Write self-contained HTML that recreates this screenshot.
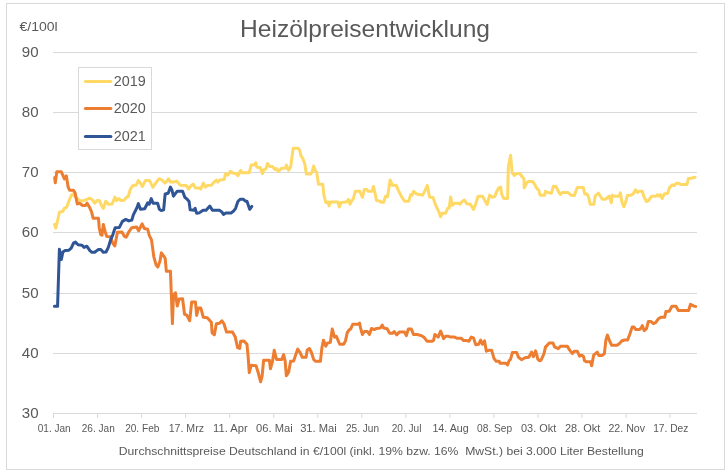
<!DOCTYPE html>
<html><head><meta charset="utf-8"><title>Heizölpreisentwicklung</title>
<style>html,body{margin:0;padding:0;background:#fff;}body{width:728px;height:475px;overflow:hidden;font-family:"Liberation Sans",sans-serif;}svg{display:block;}</style></head>
<body>
<svg width="728" height="475" viewBox="0 0 728 475" font-family="Liberation Sans, sans-serif">
<rect x="0" y="0" width="728" height="475" fill="#ffffff"/>
<defs><mask id="m" maskUnits="userSpaceOnUse" x="0" y="0" width="728" height="475"><rect x="0" y="0" width="728" height="475" fill="#ffffff"/></mask></defs>
<g mask="url(#m)">
<rect x="6.5" y="3.5" width="718" height="466" fill="#ffffff" stroke="#d9d9d9" stroke-width="1"/>
<line x1="53.0" y1="52.50" x2="696.5" y2="52.50" stroke="#d9d9d9" stroke-width="1" shape-rendering="crispEdges"/>
<line x1="53.0" y1="112.50" x2="696.5" y2="112.50" stroke="#d9d9d9" stroke-width="1" shape-rendering="crispEdges"/>
<line x1="53.0" y1="172.50" x2="696.5" y2="172.50" stroke="#d9d9d9" stroke-width="1" shape-rendering="crispEdges"/>
<line x1="53.0" y1="232.50" x2="696.5" y2="232.50" stroke="#d9d9d9" stroke-width="1" shape-rendering="crispEdges"/>
<line x1="53.0" y1="293.50" x2="696.5" y2="293.50" stroke="#d9d9d9" stroke-width="1" shape-rendering="crispEdges"/>
<line x1="53.0" y1="353.50" x2="696.5" y2="353.50" stroke="#d9d9d9" stroke-width="1" shape-rendering="crispEdges"/>
<line x1="53.0" y1="413.50" x2="696.5" y2="413.50" stroke="#d9d9d9" stroke-width="1" shape-rendering="crispEdges"/>
<line x1="53.50" y1="413.00" x2="53.50" y2="418.00" stroke="#d9d9d9" stroke-width="1"/>
<text x="37.70" y="432.4" font-size="11.2" fill="#595959" textLength="33" lengthAdjust="spacingAndGlyphs">01. Jan</text>
<line x1="97.54" y1="413.00" x2="97.54" y2="418.00" stroke="#d9d9d9" stroke-width="1"/>
<text x="81.74" y="432.4" font-size="11.2" fill="#595959" textLength="33" lengthAdjust="spacingAndGlyphs">26. Jan</text>
<line x1="141.58" y1="413.00" x2="141.58" y2="418.00" stroke="#d9d9d9" stroke-width="1"/>
<text x="125.13" y="432.4" font-size="11.2" fill="#595959" textLength="34.3" lengthAdjust="spacingAndGlyphs">20. Feb</text>
<line x1="185.62" y1="413.00" x2="185.62" y2="418.00" stroke="#d9d9d9" stroke-width="1"/>
<text x="168.67" y="432.4" font-size="11.2" fill="#595959" textLength="35.3" lengthAdjust="spacingAndGlyphs">17. Mrz</text>
<line x1="229.66" y1="413.00" x2="229.66" y2="418.00" stroke="#d9d9d9" stroke-width="1"/>
<text x="213.06" y="432.4" font-size="11.2" fill="#595959" textLength="34.6" lengthAdjust="spacingAndGlyphs">11. Apr</text>
<line x1="273.71" y1="413.00" x2="273.71" y2="418.00" stroke="#d9d9d9" stroke-width="1"/>
<text x="256.11" y="432.4" font-size="11.2" fill="#595959" textLength="36.6" lengthAdjust="spacingAndGlyphs">06. Mai</text>
<line x1="317.75" y1="413.00" x2="317.75" y2="418.00" stroke="#d9d9d9" stroke-width="1"/>
<text x="300.15" y="432.4" font-size="11.2" fill="#595959" textLength="36.6" lengthAdjust="spacingAndGlyphs">31. Mai</text>
<line x1="361.79" y1="413.00" x2="361.79" y2="418.00" stroke="#d9d9d9" stroke-width="1"/>
<text x="345.99" y="432.4" font-size="11.2" fill="#595959" textLength="33" lengthAdjust="spacingAndGlyphs">25. Jun</text>
<line x1="405.83" y1="413.00" x2="405.83" y2="418.00" stroke="#d9d9d9" stroke-width="1"/>
<text x="391.68" y="432.4" font-size="11.2" fill="#595959" textLength="29.7" lengthAdjust="spacingAndGlyphs">20. Jul</text>
<line x1="449.87" y1="413.00" x2="449.87" y2="418.00" stroke="#d9d9d9" stroke-width="1"/>
<text x="432.42" y="432.4" font-size="11.2" fill="#595959" textLength="36.3" lengthAdjust="spacingAndGlyphs">14. Aug</text>
<line x1="493.91" y1="413.00" x2="493.91" y2="418.00" stroke="#d9d9d9" stroke-width="1"/>
<text x="477.11" y="432.4" font-size="11.2" fill="#595959" textLength="35" lengthAdjust="spacingAndGlyphs">08. Sep</text>
<line x1="537.95" y1="413.00" x2="537.95" y2="418.00" stroke="#d9d9d9" stroke-width="1"/>
<text x="521.05" y="432.4" font-size="11.2" fill="#595959" textLength="35.2" lengthAdjust="spacingAndGlyphs">03. Okt</text>
<line x1="581.99" y1="413.00" x2="581.99" y2="418.00" stroke="#d9d9d9" stroke-width="1"/>
<text x="565.04" y="432.4" font-size="11.2" fill="#595959" textLength="35.3" lengthAdjust="spacingAndGlyphs">28. Okt</text>
<line x1="626.03" y1="413.00" x2="626.03" y2="418.00" stroke="#d9d9d9" stroke-width="1"/>
<text x="608.43" y="432.4" font-size="11.2" fill="#595959" textLength="36.6" lengthAdjust="spacingAndGlyphs">22. Nov</text>
<line x1="670.08" y1="413.00" x2="670.08" y2="418.00" stroke="#d9d9d9" stroke-width="1"/>
<text x="653.13" y="432.4" font-size="11.2" fill="#595959" textLength="35.3" lengthAdjust="spacingAndGlyphs">17. Dez</text>
<text x="21.8" y="57.30" font-size="14" fill="#595959" textLength="16.8" lengthAdjust="spacingAndGlyphs">90</text>
<text x="21.8" y="117.30" font-size="14" fill="#595959" textLength="16.8" lengthAdjust="spacingAndGlyphs">80</text>
<text x="21.8" y="177.30" font-size="14" fill="#595959" textLength="16.8" lengthAdjust="spacingAndGlyphs">70</text>
<text x="21.8" y="237.30" font-size="14" fill="#595959" textLength="16.8" lengthAdjust="spacingAndGlyphs">60</text>
<text x="21.8" y="298.30" font-size="14" fill="#595959" textLength="16.8" lengthAdjust="spacingAndGlyphs">50</text>
<text x="21.8" y="358.30" font-size="14" fill="#595959" textLength="16.8" lengthAdjust="spacingAndGlyphs">40</text>
<text x="21.8" y="418.30" font-size="14" fill="#595959" textLength="16.8" lengthAdjust="spacingAndGlyphs">30</text>
<text x="19.5" y="31.3" font-size="13" fill="#595959" textLength="38.2" lengthAdjust="spacingAndGlyphs">€/100l</text>
<text x="240.0" y="36.9" font-size="23.2" fill="#595959" textLength="250" lengthAdjust="spacingAndGlyphs">Heizölpreisentwicklung</text>
<text x="118.8" y="454.5" font-size="11" fill="#595959" textLength="525" lengthAdjust="spacingAndGlyphs" xml:space="preserve">Durchschnittspreise Deutschland in €/100l (inkl. 19% bzw. 16%  MwSt.) bei 3.000 Liter Bestellung</text>
<path d="M54.55,224.39 L55.76,228.18 L57.58,220.61 L59.39,212.27 L62.88,211.21 L64.39,208.18 L66.67,207.27 L68.94,200.91 L71.21,195.61 L72.73,194.09 L75.00,196.36 L79.55,200.61 L82.58,200.91 L86.36,199.70 L89.70,198.18 L92.42,199.70 L94.70,203.18 L96.97,200.61 L99.24,200.61 L101.52,205.45 L103.33,208.48 L105.76,201.21 L108.33,204.24 L112.12,203.94 L114.85,197.12 L116.67,200.61 L118.94,198.64 L121.21,200.61 L124.24,200.15 L126.52,197.12 L128.03,197.12 L130.30,189.55 L132.58,185.76 L136.36,185.00 L138.33,180.45 L140.15,182.73 L142.42,186.52 L145.45,180.45 L149.24,180.45 L150.76,182.73 L152.73,187.27 L156.06,182.73 L158.33,179.70 L159.09,178.79 L161.36,179.55 L164.85,183.03 L166.97,181.06 L168.48,178.79 L170.45,182.12 L173.48,182.12 L176.52,181.06 L178.03,182.58 L180.30,185.15 L186.36,185.61 L188.64,189.09 L190.61,186.06 L193.18,184.09 L195.45,187.88 L199.24,187.88 L200.76,189.09 L203.33,183.03 L205.30,187.12 L207.58,185.61 L211.36,185.15 L213.64,182.58 L216.36,180.00 L217.88,182.12 L219.70,180.00 L224.24,179.55 L225.45,173.94 L228.03,175.00 L230.30,171.21 L232.58,173.03 L235.61,173.48 L237.88,175.76 L240.61,170.45 L242.42,172.73 L249.24,172.73 L251.21,165.00 L253.79,165.00 L255.76,162.73 L256.82,167.27 L260.30,167.58 L262.42,173.64 L263.94,169.55 L265.91,168.79 L267.42,163.48 L269.70,166.52 L272.42,166.52 L275.00,169.55 L276.52,168.48 L278.48,171.52 L281.06,168.48 L285.61,168.03 L286.36,165.00 L288.64,170.30 L290.61,167.27 L293.18,148.33 L298.18,148.33 L299.70,150.30 L300.76,155.15 L303.03,158.94 L304.85,164.24 L306.36,174.09 L310.61,174.09 L312.12,172.12 L313.64,166.06 L315.45,171.06 L316.67,172.12 L318.48,184.24 L322.73,184.24 L323.94,195.30 L325.76,202.42 L328.03,202.12 L329.09,205.91 L330.30,202.12 L337.88,202.12 L339.39,206.97 L340.91,202.42 L346.21,202.12 L348.48,199.39 L350.00,204.24 L351.82,200.45 L353.33,198.94 L355.30,191.36 L359.85,191.36 L362.42,197.42 L364.39,189.55 L366.67,189.55 L368.18,191.36 L371.97,191.36 L373.48,186.52 L375.00,192.88 L376.52,200.45 L380.30,201.21 L381.06,202.27 L383.64,202.27 L385.61,196.21 L387.58,196.67 L390.15,180.00 L392.42,185.30 L396.21,185.30 L398.48,190.61 L401.52,196.67 L404.55,201.21 L408.79,201.21 L410.61,194.70 L412.12,195.15 L413.64,191.36 L416.67,194.09 L420.45,194.70 L422.73,195.15 L425.00,190.61 L427.27,185.30 L429.55,197.12 L433.03,197.42 L435.61,205.00 L438.64,211.36 L440.61,216.82 L442.12,213.33 L445.45,213.33 L447.73,208.33 L449.24,208.03 L450.61,196.97 L452.27,205.30 L454.55,203.33 L458.33,203.33 L459.85,204.24 L462.12,201.52 L464.39,200.00 L466.67,203.79 L470.45,204.24 L473.48,209.39 L475.76,203.79 L478.03,196.21 L482.58,196.21 L484.55,200.00 L487.12,204.55 L489.70,195.15 L492.42,197.27 L494.70,196.67 L496.97,190.91 L498.79,187.88 L500.76,187.12 L501.52,193.94 L503.79,198.48 L507.58,198.48 L508.33,166.67 L510.61,155.30 L512.12,172.73 L514.39,175.45 L516.67,173.48 L519.70,173.48 L521.97,176.52 L523.94,178.79 L524.24,187.88 L527.27,182.12 L528.79,181.52 L532.58,181.52 L534.85,184.55 L536.36,187.88 L538.64,190.15 L540.15,195.15 L544.70,195.15 L545.45,191.21 L547.73,192.42 L551.52,193.18 L553.33,186.36 L556.06,186.52 L558.33,191.36 L560.30,194.39 L562.12,192.58 L568.18,192.58 L571.21,195.30 L574.24,195.61 L577.27,187.58 L583.33,187.58 L584.85,194.09 L587.12,194.09 L588.64,197.42 L590.15,204.24 L593.94,204.24 L595.15,195.91 L598.48,193.18 L602.27,199.24 L605.30,199.24 L609.09,196.21 L611.36,202.73 L612.12,195.15 L614.39,196.21 L618.94,196.21 L620.45,192.88 L621.79,201.52 L623.76,206.82 L625.58,202.27 L627.39,195.45 L630.88,195.15 L633.15,193.94 L635.42,189.70 L637.39,192.42 L639.21,191.21 L642.24,191.21 L644.06,196.97 L646.48,201.52 L648.30,200.76 L651.64,196.21 L655.88,196.21 L657.39,194.70 L658.91,196.21 L660.42,194.70 L662.24,198.48 L664.21,193.94 L667.70,193.18 L669.52,187.58 L672.24,184.85 L674.06,185.61 L676.33,183.33 L678.61,183.33 L681.33,184.55 L686.94,184.55 L688.45,178.48 L692.24,178.03 L694.97,177.27" fill="none" stroke="#ffd966" stroke-width="3.0" stroke-linejoin="round" stroke-linecap="round"/>
<path d="M54.70,177.58 L55.30,182.73 L56.82,171.82 L61.36,171.82 L64.39,178.94 L66.36,175.91 L68.18,187.27 L69.70,190.30 L73.48,190.30 L75.00,192.58 L77.27,203.94 L79.55,203.18 L82.58,205.45 L85.61,205.45 L87.12,203.18 L90.15,208.48 L91.67,212.27 L93.18,218.33 L98.48,218.33 L99.24,227.73 L100.76,234.55 L101.97,235.30 L103.33,224.39 L105.30,232.27 L106.82,236.52 L110.61,236.82 L112.88,243.64 L114.85,245.91 L117.42,232.27 L121.97,231.97 L124.24,236.06 L126.21,237.12 L128.79,231.97 L131.82,227.73 L136.67,226.97 L138.64,230.76 L142.12,223.94 L144.24,228.48 L147.73,229.24 L149.24,235.30 L151.52,239.85 L153.79,256.52 L156.06,264.85 L157.88,267.12 L160.00,261.06 L161.36,252.88 L165.15,258.18 L166.36,271.36 L170.45,271.36 L172.42,323.79 L173.48,295.00 L175.45,292.73 L177.27,306.06 L179.09,299.09 L182.58,298.79 L184.55,314.24 L186.82,315.15 L189.70,320.76 L191.67,302.12 L195.45,302.12 L196.67,315.45 L198.48,307.88 L200.76,307.88 L203.33,317.27 L207.27,317.73 L211.36,322.27 L212.12,332.88 L214.39,334.85 L216.36,323.79 L219.39,323.33 L221.97,320.76 L223.94,323.79 L226.52,332.12 L232.58,332.12 L235.15,336.67 L237.58,347.58 L239.70,348.48 L240.61,341.21 L243.94,340.91 L246.97,344.24 L248.18,357.12 L249.24,372.73 L251.21,365.15 L256.06,365.76 L258.33,373.03 L260.61,381.82 L262.12,376.06 L263.64,360.15 L269.39,360.15 L270.45,368.79 L272.42,361.67 L274.24,350.30 L276.52,359.39 L281.82,359.39 L283.64,354.55 L285.15,360.91 L286.36,375.76 L288.64,372.27 L290.61,361.21 L293.64,360.91 L295.45,355.61 L297.73,349.09 L300.00,352.27 L302.27,357.27 L306.06,357.27 L307.27,350.00 L309.39,348.48 L311.36,352.27 L313.64,359.39 L315.45,361.36 L320.45,361.36 L321.97,347.27 L323.48,340.15 L325.76,346.21 L327.27,343.18 L330.30,342.42 L332.27,329.09 L334.55,337.12 L336.36,336.36 L339.70,344.24 L343.64,344.24 L345.45,340.91 L347.27,332.58 L348.79,330.30 L350.76,328.79 L352.73,324.24 L358.33,324.24 L359.55,323.03 L360.61,328.03 L362.42,334.55 L364.39,331.52 L367.42,331.52 L369.39,334.55 L371.52,328.48 L374.24,329.55 L376.52,328.48 L380.30,328.03 L382.27,325.00 L383.64,328.03 L387.12,328.79 L389.70,333.33 L392.42,333.33 L394.24,331.52 L396.67,334.85 L399.24,332.12 L404.55,332.12 L406.36,335.61 L408.33,329.09 L411.36,329.09 L413.64,334.55 L417.42,334.55 L421.21,335.61 L424.24,337.58 L426.97,341.21 L432.12,341.21 L433.64,340.15 L434.85,334.55 L438.18,337.12 L440.61,331.06 L443.64,338.64 L445.45,336.36 L448.48,336.36 L450.76,337.12 L454.55,337.12 L457.27,338.33 L461.36,338.33 L463.64,340.61 L466.67,340.61 L468.94,341.21 L471.21,337.12 L473.48,337.88 L475.76,344.70 L478.79,344.24 L480.61,340.15 L482.58,344.24 L484.55,340.91 L486.36,351.21 L488.64,350.30 L491.67,350.30 L493.94,358.33 L496.21,361.36 L499.24,361.36 L500.00,363.33 L506.06,363.33 L507.58,364.85 L509.09,360.76 L510.61,359.24 L512.42,352.42 L516.67,352.42 L518.48,357.27 L521.52,359.70 L525.00,357.73 L528.79,357.27 L531.52,352.12 L533.33,356.67 L535.61,350.91 L537.88,359.24 L539.39,360.76 L540.91,360.30 L543.94,353.94 L545.45,347.12 L549.24,343.03 L553.03,343.03 L554.55,346.82 L558.33,348.64 L560.30,346.36 L567.42,346.36 L569.70,350.15 L572.42,353.64 L574.24,351.21 L577.27,351.21 L579.55,356.21 L581.82,355.15 L583.33,356.21 L584.55,360.76 L586.36,361.82 L590.61,361.82 L591.67,365.76 L593.64,355.15 L597.27,352.12 L598.79,355.45 L602.27,355.45 L604.39,353.64 L605.91,340.00 L607.42,335.15 L609.85,341.52 L611.67,345.30 L616.97,345.30 L619.24,343.79 L621.97,340.76 L624.55,340.00 L627.58,340.00 L629.85,333.94 L632.12,327.12 L634.09,327.12 L635.61,329.39 L639.70,329.39 L641.21,327.88 L642.27,325.61 L644.24,330.61 L646.52,328.64 L648.33,321.52 L651.06,321.52 L653.33,323.64 L655.61,322.58 L658.33,318.79 L660.91,317.27 L664.70,317.27 L665.91,311.52 L669.24,311.21 L671.97,306.36 L676.06,306.36 L678.33,310.45 L688.64,310.45 L690.45,304.39 L693.48,305.91 L695.61,306.36" fill="none" stroke="#ed7d31" stroke-width="3.0" stroke-linejoin="round" stroke-linecap="round"/>
<path d="M54.39,306.36 L57.58,306.36 L59.39,249.24 L61.36,259.55 L62.88,251.97 L65.15,250.45 L68.94,250.15 L71.21,248.18 L73.48,243.18 L75.45,242.12 L78.03,244.70 L81.82,245.15 L84.09,247.42 L86.82,246.21 L89.70,250.45 L91.67,252.27 L94.70,252.27 L98.48,249.39 L100.76,249.39 L103.33,252.27 L106.06,251.97 L108.33,247.42 L110.61,239.85 L112.88,234.55 L115.15,227.73 L119.39,227.42 L122.42,221.36 L125.76,219.39 L128.79,220.91 L131.82,220.15 L133.33,214.85 L137.12,207.27 L138.33,203.64 L140.45,209.24 L144.70,208.79 L147.73,202.73 L149.24,204.24 L151.21,198.64 L153.03,203.18 L157.58,203.18 L159.39,209.24 L161.36,210.61 L163.64,209.85 L165.15,193.94 L168.18,193.18 L170.45,187.12 L171.97,190.15 L173.48,196.21 L177.27,191.21 L182.58,191.21 L184.85,197.27 L187.12,199.24 L189.09,201.52 L190.15,209.85 L193.94,210.30 L195.15,208.33 L196.67,213.33 L199.24,212.88 L203.03,210.30 L206.06,210.30 L209.85,206.06 L212.42,210.30 L219.70,210.30 L221.97,212.12 L223.48,214.39 L225.76,212.88 L231.06,212.88 L233.33,211.36 L235.61,208.33 L237.88,201.52 L240.15,199.24 L243.18,199.24 L245.45,201.21 L246.97,201.21 L249.70,209.39 L251.82,206.36" fill="none" stroke="#2f5597" stroke-width="3.0" stroke-linejoin="round" stroke-linecap="round"/>
<rect x="78.5" y="67.5" width="73" height="82" fill="#ffffff" stroke="#d9d9d9" stroke-width="1"/>
<line x1="85.4" y1="81.5" x2="110.9" y2="81.5" stroke="#ffd966" stroke-width="3.0" stroke-linecap="round"/>
<text x="113.8" y="86.00" font-size="14" fill="#595959" textLength="32" lengthAdjust="spacingAndGlyphs">2019</text>
<line x1="85.4" y1="108.5" x2="110.9" y2="108.5" stroke="#ed7d31" stroke-width="3.0" stroke-linecap="round"/>
<text x="113.8" y="113.00" font-size="14" fill="#595959" textLength="32" lengthAdjust="spacingAndGlyphs">2020</text>
<line x1="85.4" y1="136.5" x2="110.9" y2="136.5" stroke="#2f5597" stroke-width="3.0" stroke-linecap="round"/>
<text x="113.8" y="141.00" font-size="14" fill="#595959" textLength="32" lengthAdjust="spacingAndGlyphs">2021</text>
</g>
</svg>
</body></html>
